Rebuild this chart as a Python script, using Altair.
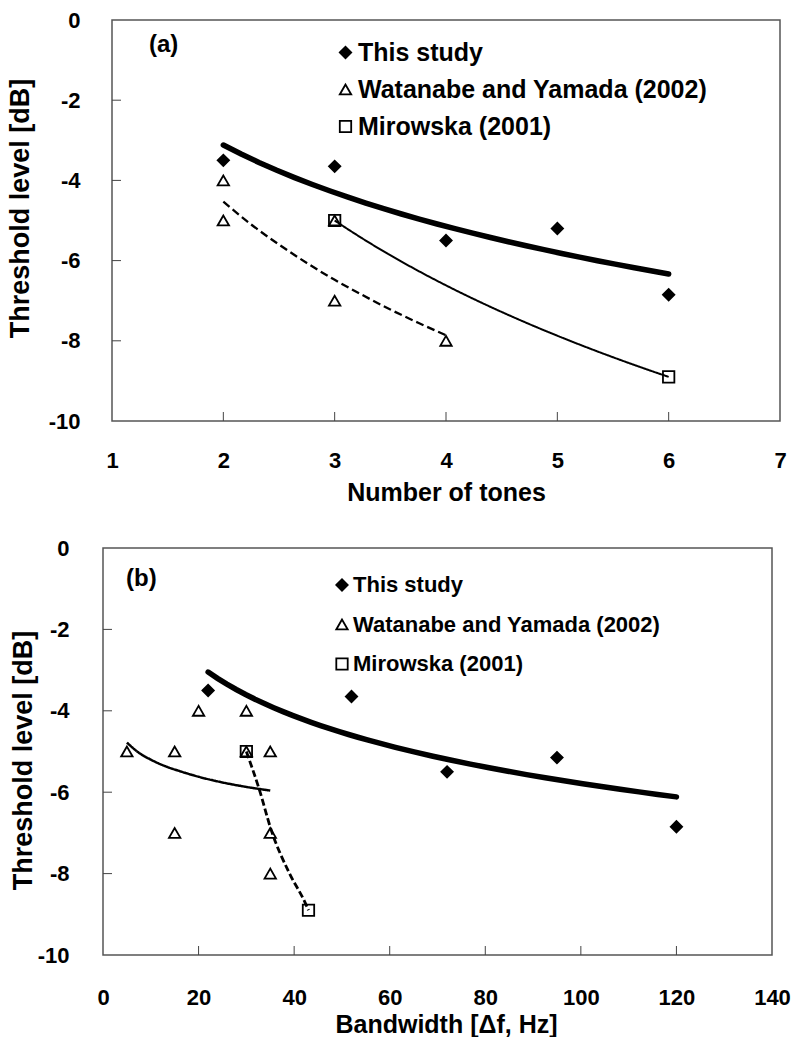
import altair as alt
import pandas as pd

FONT = "Liberation Sans"
series_names = ["This study", "Watanabe and Yamada (2002)", "Mirowska (2001)"]
series_shapes = ["diamond", "triangle-up", "square"]
series_fills = ["black", "transparent", "transparent"]
series_strokes = ["black", "black", "black"]
panel_labels = ["(a)", "(b)"]
x_titles = ["Number of tones", "Bandwidth [\u0394f, Hz]"]
y_title = "Threshold level [dB]"

# ---- panel (a): threshold vs number of tones
a_this_x = [2, 3, 4, 5, 6]
a_this_y = [-3.5, -3.65, -5.5, -5.2, -6.85]
a_wat_x = [2, 2, 3, 3, 4]
a_wat_y = [-4.0, -5.0, -5.0, -7.0, -8.0]
a_mir_x = [3, 6]
a_mir_y = [-5.0, -8.9]
a_watfit_x = [2.0, 2.25, 2.5, 2.75, 3.0, 3.25, 3.5, 3.75, 4.0]
a_watfit_y = [-4.53, -5.10, -5.60, -6.06, -6.48, -6.86, -7.22, -7.55, -7.86]
a_x_domain = [1, 7]
a_x_labels = [1, 2, 3, 4, 5, 6, 7]
a_x_ticks = [2, 3, 4, 5, 6]

# ---- panel (b): threshold vs bandwidth
b_this_x = [22, 52, 72, 95, 120]
b_this_y = [-3.5, -3.65, -5.5, -5.15, -6.85]
b_wat_x = [5, 15, 15, 20, 30, 30, 35, 35, 35]
b_wat_y = [-5.0, -5.0, -7.0, -4.0, -4.0, -5.0, -5.0, -7.0, -8.0]
b_mir_x = [30, 43]
b_mir_y = [-5.0, -8.9]
b_watfit_x = [5, 7.5, 10, 13, 16, 20, 25, 30, 35]
b_watfit_y = [-4.78, -5.03, -5.20, -5.36, -5.48, -5.62, -5.76, -5.87, -5.96]
b_mirfit_x = [30, 32.75, 35.2, 39, 42.2, 43]
b_mirfit_y = [-5.0, -5.95, -6.93, -7.99, -8.69, -8.9]
b_x_domain = [0, 140]
b_x_labels = [0, 20, 40, 60, 80, 100, 120, 140]
b_x_ticks = [20, 40, 60, 80, 100, 120]

y_domain = [-10, 0]
y_labels = [-10, -8, -6, -4, -2, 0]
y_ticks = [-8, -6, -4, -2]


def build_panel(p):
    W, H, sh = p["W"], p["H"], p["shift"]
    xs = alt.Scale(domain=p["xdom"], nice=False, zero=False, range=[-sh, W])
    ys = alt.Scale(domain=y_domain, nice=False, zero=False)
    xaxis = alt.Axis(values=p["xlabels"], title=p["xtitle"], ticks=False, domain=False,
                     grid=False, labelFlush=False, labelOverlap=False,
                     labelExpr="'' + datum.value",
                     labelPadding=p["xlabpad"], labelFont=FONT, labelFontSize=22,
                     labelFontWeight="bold", labelColor="black",
                     titleFont=FONT, titleFontSize=25, titleFontWeight="bold",
                     titleColor="black", titleX=p["xtitleX"], titleY=p["xtitleY"],
                     titleBaseline="alphabetic")
    yaxis = alt.Axis(values=y_labels, title=y_title, ticks=False, domain=False,
                     grid=False, labelFlush=False, labelOverlap=False,
                     labelExpr="'' + datum.value", offset=sh,
                     labelPadding=p["ylabpad"], labelFont=FONT, labelFontSize=22,
                     labelFontWeight="bold", labelColor="black",
                     titleFont=FONT, titleFontSize=27, titleFontWeight="bold",
                     titleColor="black", titleX=p["ytitleX"], titleY=p["ytitleY"],
                     titleBaseline="alphabetic", titleAngle=270)

    def X(f):
        return alt.X(f, type="quantitative", scale=xs, axis=xaxis)

    def Y(f):
        return alt.Y(f, type="quantitative", scale=ys, axis=yaxis)

    layers = []
    # plot frame, drawn over the full data domain
    frame_df = pd.DataFrame({"x0": [p["xdom"][0]], "x1": [p["xdom"][1]],
                             "y0": [y_domain[0]], "y1": [y_domain[1]]})
    layers.append(
        alt.Chart(frame_df).mark_rect(filled=False, color="#555", strokeWidth=1.5)
        .encode(x=X("x0"), x2="x1", y=Y("y0"), y2="y1")
    )
    # thick logarithmic trend for this study
    this_df = pd.DataFrame({"x": p["this_x"], "y": p["this_y"]})
    layers.append(
        alt.Chart(this_df)
        .transform_regression("x", "y", method="log", extent=[min(p["this_x"]), max(p["this_x"])])
        .mark_line(color="black", strokeWidth=5.5, strokeCap="round")
        .encode(x=X("x"), y=Y("y"))
    )
    for ln in p["lines"]:
        df = pd.DataFrame({"x": ln["x"], "y": ln["y"]})
        if ln["kind"] == "reg":
            ch = (alt.Chart(df)
                  .transform_regression("x", "y", method="log", extent=[min(ln["x"]), max(ln["x"])])
                  .mark_line(color="black", strokeWidth=ln["w"], strokeDash=ln["dash"]))
        else:
            ch = alt.Chart(df).mark_line(color="black", strokeWidth=ln["w"],
                                         strokeDash=ln["dash"], interpolate="monotone")
        layers.append(ch.encode(x=X("x"), y=Y("y")))

    pts = pd.concat([
        pd.DataFrame({"x": p["this_x"], "y": p["this_y"], "series": series_names[0]}),
        pd.DataFrame({"x": p["wat_x"], "y": p["wat_y"], "series": series_names[1]}),
        pd.DataFrame({"x": p["mir_x"], "y": p["mir_y"], "series": series_names[2]}),
    ], ignore_index=True)
    leg = dict(title=None, orient="none", legendX=p["legX"], legendY=p["legY"],
               labelFont=FONT, labelFontSize=p["legfs"], labelFontWeight="bold",
               labelColor="black", rowPadding=p["legrow"], symbolSize=130,
               symbolStrokeWidth=1.8, labelOffset=0, padding=0, labelLimit=600)
    layers.append(
        alt.Chart(pts).mark_point(filled=True, strokeWidth=1.8, size=130, opacity=1)
        .encode(
            x=X("x"), y=Y("y"),
            shape=alt.Shape("series:N", scale=alt.Scale(domain=series_names, range=series_shapes),
                            legend=alt.Legend(**leg)),
            fill=alt.Fill("series:N", scale=alt.Scale(domain=series_names, range=series_fills),
                          legend=alt.Legend(**leg)),
            stroke=alt.Stroke("series:N", scale=alt.Scale(domain=series_names, range=series_strokes),
                              legend=alt.Legend(**leg)),
        )
    )
    # inside ticks
    layers.append(
        alt.Chart(pd.DataFrame({"t": p["xticks"]})).mark_rule(color="#444", strokeWidth=1)
        .encode(x=X("t"), y=alt.value(H), y2=alt.value(H - 9))
    )
    layers.append(
        alt.Chart(pd.DataFrame({"t": y_ticks})).mark_rule(color="#444", strokeWidth=1)
        .encode(y=Y("t"), x=alt.value(-sh), x2=alt.value(9 - sh))
    )
    layers.append(
        alt.Chart(pd.DataFrame({"label": [p["label"]]}))
        .mark_text(align="left", baseline="middle", font=FONT, fontSize=24,
                   fontWeight="bold", color="black")
        .encode(text="label:N", x=alt.value(p["labX"]), y=alt.value(p["labY"]))
    )
    return alt.layer(*layers).properties(width=W, height=H)


top = build_panel(dict(
    W=668, H=401, shift=0, xdom=a_x_domain, xlabels=a_x_labels, xticks=a_x_ticks,
    xtitle=x_titles[0], xlabpad=29, xtitleX=334, xtitleY=79, ylabpad=32,
    ytitleX=-84, ytitleY=188,
    this_x=a_this_x, this_y=a_this_y, wat_x=a_wat_x, wat_y=a_wat_y, mir_x=a_mir_x, mir_y=a_mir_y,
    lines=[
        dict(kind="reg", x=a_mir_x, y=a_mir_y, w=2.0, dash=[1, 0]),
        dict(kind="pts", x=a_watfit_x, y=a_watfit_y, w=2.3, dash=[8, 4]),
    ],
    legX=221, legY=20, legfs=25, legrow=11,
    label=panel_labels[0], labX=37, labY=25,
))

bottom = build_panel(dict(
    W=660, H=407, shift=9, xdom=b_x_domain, xlabels=b_x_labels, xticks=b_x_ticks,
    xtitle=x_titles[1], xlabpad=32, xtitleX=334, xtitleY=77, ylabpad=34,
    ytitleX=-72, ytitleY=212,
    this_x=b_this_x, this_y=b_this_y, wat_x=b_wat_x, wat_y=b_wat_y, mir_x=b_mir_x, mir_y=b_mir_y,
    lines=[
        dict(kind="pts", x=b_watfit_x, y=b_watfit_y, w=2.5, dash=[1, 0]),
        dict(kind="pts", x=b_mirfit_x, y=b_mirfit_y, w=2.8, dash=[7, 3]),
    ],
    legX=219, legY=26, legfs=22, legrow=17.5,
    label=panel_labels[1], labX=14, labY=31,
))

chart = (
    alt.concat(top, bottom, columns=1, spacing=32)
    .resolve_scale(shape="independent", fill="independent", stroke="independent")
    .resolve_legend(shape="independent", fill="independent", stroke="independent")
    .configure_view(strokeWidth=0)
    .properties(padding={"left": 6, "top": 9, "right": 0, "bottom": 0})
)

chart.save("out.html", embed_options={"renderer": "svg", "actions": False})
